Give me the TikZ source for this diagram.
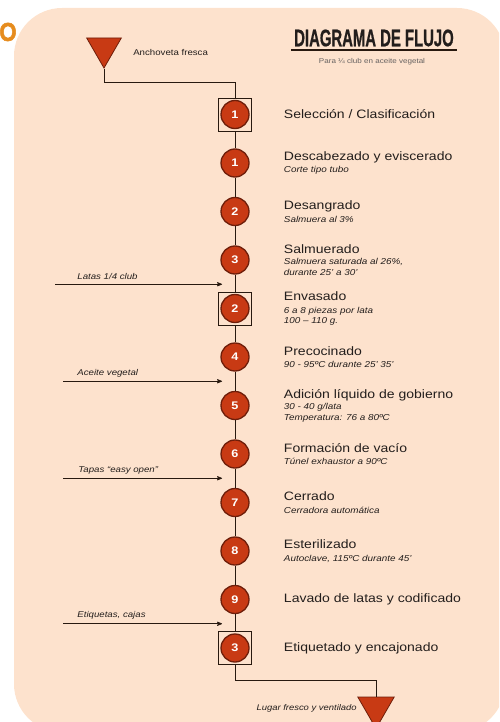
\documentclass[tikz,border=0pt]{standalone}
\usepackage{fontspec}
\setmainfont[FakeStretch=1.15]{Liberation Sans}
\newfontfamily\titlefont[FakeStretch=0.62, FakeBold=0.6]{Liberation Sans}
\newfontfamily\cutfont[FakeStretch=0.85, FakeBold=2]{Liberation Sans}
\usetikzlibrary{arrows,calc,positioning,shapes.geometric}

\definecolor{peach}{RGB}{253,226,205}
\definecolor{stepred}{RGB}{200,58,20}
\definecolor{steprim}{RGB}{110,30,10}
\definecolor{linedark}{RGB}{40,25,15}
\definecolor{textdark}{RGB}{35,30,28}
\definecolor{orangeO}{RGB}{230,140,30}

\newcommand{\stephead}[1]{{\fontsize{12.2}{14}\selectfont\upshape #1}}

\begin{document}
\begin{tikzpicture}[x=1pt, y=1pt, >=stealth', semithick, node distance=48.5pt]

    \tikzstyle{stepc}   = [on grid, circle, minimum size=28pt, inner sep=0pt, fill=stepred, draw=steprim, line width=1.3pt, text=white, font=\fontsize{11}{11}\selectfont\bfseries]
    \tikzstyle{stepsq}  = [rectangle, minimum size=33pt, inner sep=0pt, draw=linedark, line width=0.9pt]
    \tikzstyle{desc}    = [anchor=west, align=left, inner sep=0pt, text=textdark, font=\fontsize{8.6}{10.5}\selectfont\itshape]
    \tikzstyle{tri}     = [regular polygon, regular polygon sides=3, shape border rotate=180, inner sep=0pt, fill=stepred, draw=steprim, line width=0.8pt]
    \tikzstyle{flow}    = [draw=linedark, line width=1pt]
    \tikzstyle{feed}    = [->, draw=linedark, line width=0.8pt]
    \tikzstyle{feedlbl} = [anchor=south west, inner sep=0pt, text=textdark, font=\fontsize{8.4}{10}\selectfont\itshape]

    \path[use as bounding box, clip] (0,0) rectangle (499,-722);
    \fill[peach, rounded corners=48pt] (14,-8) rectangle (505,-732);

    % title
    \node (cut)    [text=orangeO, font=\cutfont\fontsize{26}{26}\selectfont\bfseries]   at (8,-32)    {O};
    \node (title)  [inner sep=3pt, text=textdark, font=\titlefont\fontsize{24}{24}\selectfont\bfseries] at (374,-38) {DIAGRAMA DE FLUJO};
    \draw[linedark, line width=1.5pt] (title.south west) -- (title.south east);
    \node (subt)   [text=textdark!70, font=\fontsize{7}{8}\selectfont] at (372,-62) {Para ¼ club en aceite vegetal};

    % raw material in
    \node (ant)    [tri, minimum size=40pt]                  at (104,-48)  {};
    \node (antlbl) [anchor=west, inner sep=0pt, text=textdark, font=\fontsize{8.4}{10}\selectfont] at (133,-52) {Anchoveta fresca};

    % steps
    \node (s1)  [stepc]                   at (235,-114.5)   {1};
    \node (b1)  [stepsq]                  at (s1)           {};
    \node (c1)  [stepc, below=of s1]                        {1};
    \node (c2)  [stepc, below=of c1]                        {2};
    \node (c3)  [stepc, below=of c2]                        {3};
    \node (s2)  [stepc, below=of c3]                        {2};
    \node (b2)  [stepsq]                  at (s2)           {};
    \node (c4)  [stepc, below=of s2]                        {4};
    \node (c5)  [stepc, below=of c4]                        {5};
    \node (c6)  [stepc, below=of c5]                        {6};
    \node (c7)  [stepc, below=of c6]                        {7};
    \node (c8)  [stepc, below=of c7]                        {8};
    \node (c9)  [stepc, below=of c8]                        {9};
    \node (s3)  [stepc, below=of c9]                        {3};
    \node (b3)  [stepsq]                  at (s3)           {};

    % descriptions
    \node (t1)  [desc, right=34pt of s1]  {\stephead{Selección / Clasificación}};
    \node (t2)  [desc, right=34pt of c1]  {\stephead{Descabezado y eviscerado}\\[2pt]Corte tipo tubo};
    \node (t3)  [desc, right=34pt of c2]  {\stephead{Desangrado}\\[2pt]Salmuera al 3\%};
    \node (t4)  [desc, right=34pt of c3]  {\stephead{Salmuerado}\\[1pt]Salmuera saturada al 26\%,\\durante 25' a 30'};
    \node (t5)  [desc, right=34pt of s2]  {\stephead{Envasado}\\[2pt]6 a 8 piezas por lata\\100 – 110 g.};
    \node (t6)  [desc, right=34pt of c4]  {\stephead{Precocinado}\\[1pt]90 - 95ºC durante 25' 35'};
    \node (t7)  [desc, right=34pt of c5]  {\stephead{Adición líquido de gobierno}\\[1pt]30 - 40 g/lata\\Temperatura: 76 a 80ºC};
    \node (t8)  [desc, right=34pt of c6]  {\stephead{Formación de vacío}\\[2pt]Túnel exhaustor a 90ºC};
    \node (t9)  [desc, right=34pt of c7]  {\stephead{Cerrado}\\[3pt]Cerradora automática};
    \node (t10) [desc, right=34pt of c8]  {\stephead{Esterilizado}\\[2pt]Autoclave, 115ºC durante 45'};
    \node (t11) [desc, right=34pt of c9]  {\stephead{Lavado de latas y codificado}};
    \node (t12) [desc, right=34pt of s3]  {\stephead{Etiquetado y encajonado}};

    % product out
    \node (alm)    [tri, minimum size=42pt]                  at (376,-707.5) {};
    \node (almlbl) [anchor=east, inner sep=0pt, text=textdark, font=\fontsize{8.2}{10}\selectfont\itshape] at (357,-708) {Lugar fresco y ventilado};

    % main line
    \draw[flow] (ant.south) -- ++(0,-14) -| (b1.north);
    \draw[flow] (b1) -- (c1);
    \draw[flow] (c1) -- (c2);
    \draw[flow] (c2) -- (c3);
    \draw[flow] (c3) -- (b2);
    \draw[flow] (b2) -- (c4);
    \draw[flow] (c4) -- (c5);
    \draw[flow] (c5) -- (c6);
    \draw[flow] (c6) -- (c7);
    \draw[flow] (c7) -- (c8);
    \draw[flow] (c8) -- (c9);
    \draw[flow] (c9) -- (b3);
    \draw[flow] (b3.south) -- ++(0,-16) -| (alm.north);

    % inputs
    \coordinate (latasA)  at ($(c3)!0.5!(s2)+(-180,0)$);
    \coordinate (latasB)  at ($(c3)!0.5!(s2)+(-13,0)$);
    \coordinate (aceiteA) at ($(c4)!0.5!(c5)+(-172,0)$);
    \coordinate (aceiteB) at ($(c4)!0.5!(c5)+(-13,0)$);
    \coordinate (tapasA)  at ($(c6)!0.5!(c7)+(-172,0)$);
    \coordinate (tapasB)  at ($(c6)!0.5!(c7)+(-13,0)$);
    \coordinate (etiqA)   at ($(c9)!0.5!(s3)+(-172,0)$);
    \coordinate (etiqB)   at ($(c9)!0.5!(s3)+(-13,0)$);

    \draw[feed] (latasA)  -- node[feedlbl, pos=0, xshift=22pt, yshift=4pt] {Latas 1/4 club}       (latasB);
    \draw[feed] (aceiteA) -- node[feedlbl, pos=0, xshift=14pt, yshift=4pt] {Aceite vegetal}       (aceiteB);
    \draw[feed] (tapasA)  -- node[feedlbl, pos=0, xshift=15pt, yshift=4pt] {Tapas “easy open”}    (tapasB);
    \draw[feed] (etiqA)   -- node[feedlbl, pos=0, xshift=14pt, yshift=4pt] {Etiquetas, cajas}     (etiqB);

\end{tikzpicture}
\end{document}
